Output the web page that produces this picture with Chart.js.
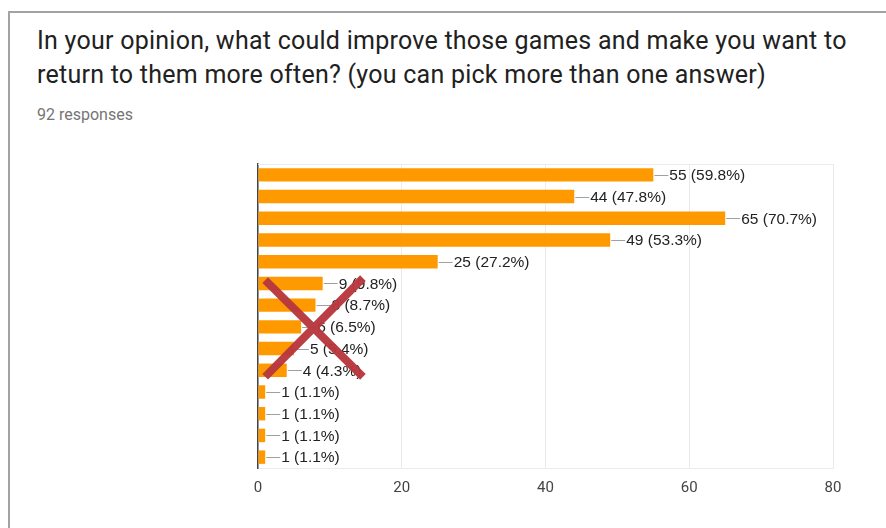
<!DOCTYPE html>
<html>
<head>
<meta charset="utf-8">
<script src="https://cdn.jsdelivr.net/npm/chart.js@4/dist/chart.umd.min.js"></script>
<style>
  html, body { margin: 0; padding: 0; background: #fff; width: 886px; height: 528px; overflow: hidden; }
  .card { position: absolute; left: 8px; top: 11px; width: 900px; height: 540px;
          border-left: 2px solid #a3a3a3; border-top: 2px solid #a3a3a3; box-sizing: border-box; }
  .title { position: absolute; left: 37px; top: 24px; font-family: Roboto, sans-serif; font-size: 25px;
           letter-spacing: 0.25px; line-height: 34px; color: #212121; white-space: nowrap; }
  .sub { position: absolute; left: 37px; top: 105px; font-family: Roboto, sans-serif; font-size: 16px;
         color: #757575; white-space: nowrap; }
  #chart { position: absolute; left: 0; top: 0; }
</style>
</head>
<body>
<div class="card"></div>
<div class="title">In your opinion, what could improve those games and make you want to<br>return to them more often? (you can pick more than one answer)</div>
<div class="sub">92 responses</div>
<canvas id="chart" width="886" height="528"></canvas>
<script>
// Answers (their names are not shown on the chart), response counts, total respondents
const answers = ['A1', 'A2', 'A3', 'A4', 'A5', 'A6', 'A7', 'A8', 'A9', 'A10', 'A11', 'A12', 'A13', 'A14'];
const counts = [55, 44, 65, 49, 25, 9, 8, 6, 5, 4, 1, 1, 1, 1];
const totalResponses = 92;
const xTicks = [0, 20, 40, 60, 80];

function valueLabel(n) {
  return n + ' (' + (n / totalResponses * 100).toFixed(1) + '%)';
}

// Value labels with leader lines, top frame line and the crossed-out mark
const overlay = {
  id: 'overlay',
  beforeDatasetsDraw(chart) {
    const { ctx, chartArea } = chart;
    ctx.save();
    ctx.strokeStyle = '#ebebeb';
    ctx.lineWidth = 1;
    ctx.beginPath();
    ctx.moveTo(chartArea.left, Math.round(chartArea.top) + 0.5);
    ctx.lineTo(chartArea.right, Math.round(chartArea.top) + 0.5);
    ctx.stroke();
    ctx.restore();
  },
  afterDatasetsDraw(chart) {
    const { ctx } = chart;
    const meta = chart.getDatasetMeta(0);
    ctx.save();
    ctx.font = '15.5px "Liberation Sans", Arial, sans-serif';
    ctx.textBaseline = 'middle';
    ctx.textAlign = 'left';
    meta.data.forEach((bar, i) => {
      const yl = Math.round(bar.y) + 0.5;
      ctx.strokeStyle = '#a0a0a0';
      ctx.lineWidth = 1;
      ctx.beginPath();
      ctx.moveTo(bar.x + 1, yl);
      ctx.lineTo(bar.x + 15, yl);
      ctx.stroke();
      ctx.fillStyle = '#222222';
      ctx.fillText(valueLabel(counts[i]), bar.x + 16, bar.y + 1);
    });

    // hand-drawn style cross over the small answers
    const xs = chart.scales.x, ys = chart.scales.y;
    const x0 = xs.getPixelForValue(1), x1 = xs.getPixelForValue(14.6);
    const y0 = ys.getPixelForValue(4.85), y1 = ys.getPixelForValue(9.3);
    ctx.strokeStyle = 'rgba(184, 56, 62, 0.97)';
    ctx.lineWidth = 8;
    ctx.lineCap = 'butt';
    ctx.beginPath();
    ctx.moveTo(x0, y0); ctx.lineTo(x1, y1);
    ctx.moveTo(x1, y0 - 2); ctx.lineTo(x0, y1);
    ctx.stroke();
    ctx.restore();
  }
};

new Chart(document.getElementById('chart'), {
  type: 'bar',
  data: {
    labels: answers,
    datasets: [{
      data: counts,
      backgroundColor: '#ff9900',
      borderWidth: 0,
      categoryPercentage: 0.62,
      barPercentage: 1.0
    }]
  },
  options: {
    indexAxis: 'y',
    responsive: false,
    devicePixelRatio: 1,
    animation: false,
    layout: { padding: { left: 258, right: 53, top: 164, bottom: 32 } },
    plugins: { legend: { display: false }, tooltip: { enabled: false } },
    scales: {
      x: {
        min: xTicks[0],
        max: xTicks[xTicks.length - 1],
        afterBuildTicks(scale) { scale.ticks = xTicks.map(v => ({ value: v })); },
        afterFit(scale) { scale.height = 28; },
        ticks: { padding: 11, color: '#444444', font: { family: 'Roboto', size: 15 } },
        grid: { color: '#ebebeb', lineWidth: 1, drawTicks: false },
        border: { color: '#ebebeb', width: 1 }
      },
      y: {
        afterFit(scale) { scale.width = 0; },
        ticks: { display: false },
        grid: { display: false, drawTicks: false },
        border: { color: '#444444', width: 1.5 }
      }
    }
  },
  plugins: [overlay]
});
</script>
</body>
</html>
